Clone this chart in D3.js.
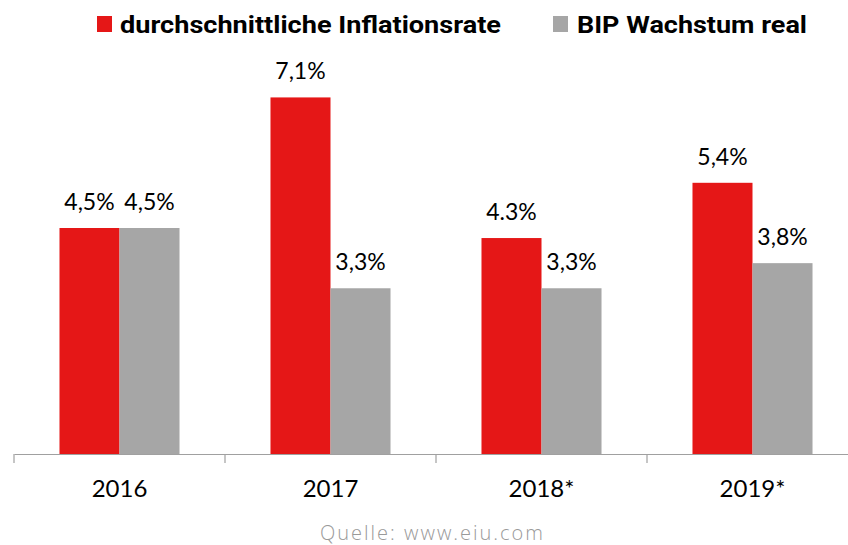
<!DOCTYPE html>
<html>
<head>
<meta charset="utf-8">
<script src="https://cdn.jsdelivr.net/npm/d3@7"></script>
<style>
  body { margin: 0; background: #fff; }
  svg { display: block; }
</style>
</head>
<body>
<svg id="chart"></svg>
<script>
const jahre = ["2016", "2017", "2018*", "2019*"]
const serien = ["durchschnittliche Inflationsrate", "BIP Wachstum real"]
const inflation = [4.5, 7.1, 4.3, 5.4]
const wachstum = [4.5, 3.3, 3.3, 3.8]
const inflationLabels = ["4,5%", "7,1%", "4.3%", "5,4%"]
const wachstumLabels = ["4,5%", "3,3%", "3,3%", "3,8%"]
const farben = ["#e51717", "#a6a6a6"]

const width = 848
const height = 545
const svg = d3.select('#chart')
    .attr("width", width)
    .attr("height", height)

const data = jahre.map((j, i) => ({
    jahr: j,
    werte: [
        { key: serien[0], value: inflation[i], label: inflationLabels[i] },
        { key: serien[1], value: wachstum[i], label: wachstumLabels[i] }
    ]
}))

const x0 = d3.scaleBand()
    .domain(jahre)
    .range([14, 858])

const x1 = d3.scaleBand()
    .domain(serien)
    .range([0, x0.bandwidth()])
    .paddingOuter(0.758)

const y = d3.scaleLinear()
    .domain([0, 9])
    .range([454, 2])

const color = d3.scaleOrdinal()
    .domain(serien)
    .range(farben)

// Achse
const axis = svg.append('g')
    .attr("transform", "translate(0,454)")
    .call(d3.axisBottom(x0).tickSize(0).tickFormat(""))
axis.select(".domain").attr("stroke", "#a0a0a0").attr("stroke-width", 1.2)

svg.append('g')
    .selectAll('line')
    .data(jahre)
    .enter()
    .append('line')
    .attr("x1", d => x0(d))
    .attr("x2", d => x0(d))
    .attr("y1", 454)
    .attr("y2", 463)
    .attr("stroke", "#a0a0a0")
    .attr("stroke-width", 1.2)

svg.append('g')
    .selectAll('text')
    .data(jahre)
    .enter()
    .append('text')
    .attr("x", d => x0(d) + x0.bandwidth() / 2)
    .attr("y", 497)
    .attr("text-anchor", "middle")
    .attr("font-family", "Lato, sans-serif")
    .attr("font-size", 24)
    .attr("fill", "#000")
    .text(d => d)

// Balken
const groups = svg.selectAll('g.jahr')
    .data(data)
    .enter()
    .append('g')
    .attr("class", "jahr")
    .attr("transform", d => `translate(${x0(d.jahr)},0)`)

groups.selectAll('rect')
    .data(d => d.werte)
    .enter()
    .append('rect')
    .attr("x", d => x1(d.key))
    .attr("y", d => y(d.value))
    .attr("width", x1.bandwidth())
    .attr("height", d => y(0) - y(d.value))
    .attr("fill", d => color(d.key))

groups.selectAll('text')
    .data(d => d.werte)
    .enter()
    .append('text')
    .attr("x", d => x1(d.key) + x1.bandwidth() / 2)
    .attr("y", d => y(d.value) - 18)
    .attr("text-anchor", "middle")
    .attr("font-family", "Lato, sans-serif")
    .attr("font-size", 23)
    .attr("fill", "#000")
    .text(d => d.label)

// Legende
const legendPos = [{ sq: 97, tx: 120, w: 381 }, { sq: 553, tx: 577, w: 230 }]
const legend = svg.append('g')
    .selectAll('g')
    .data(serien)
    .enter()
    .append('g')

legend.append('rect')
    .attr("x", (d, i) => legendPos[i].sq)
    .attr("y", 16)
    .attr("width", 15)
    .attr("height", 16)
    .attr("fill", d => color(d))

legend.append('text')
    .attr("x", (d, i) => legendPos[i].tx)
    .attr("y", 33)
    .attr("font-family", "'Liberation Sans Narrow', 'Roboto', sans-serif")
    .attr("font-weight", "bold")
    .attr("font-size", 23)
    .attr("textLength", (d, i) => legendPos[i].w)
    .attr("lengthAdjust", "spacingAndGlyphs")
    .attr("fill", "#000")
    .text(d => d)

// Quelle
svg.append('text')
    .attr("x", 320)
    .attr("y", 540)
    .attr("font-family", "'Open Sans', sans-serif")
    .attr("font-size", 20)
    .attr("font-weight", 300)
    .attr("textLength", 223)
    .attr("lengthAdjust", "spacing")
    .attr("fill", "#9a9a9a")
    .text("Quelle: www.eiu.com")
</script>
</body>
</html>
